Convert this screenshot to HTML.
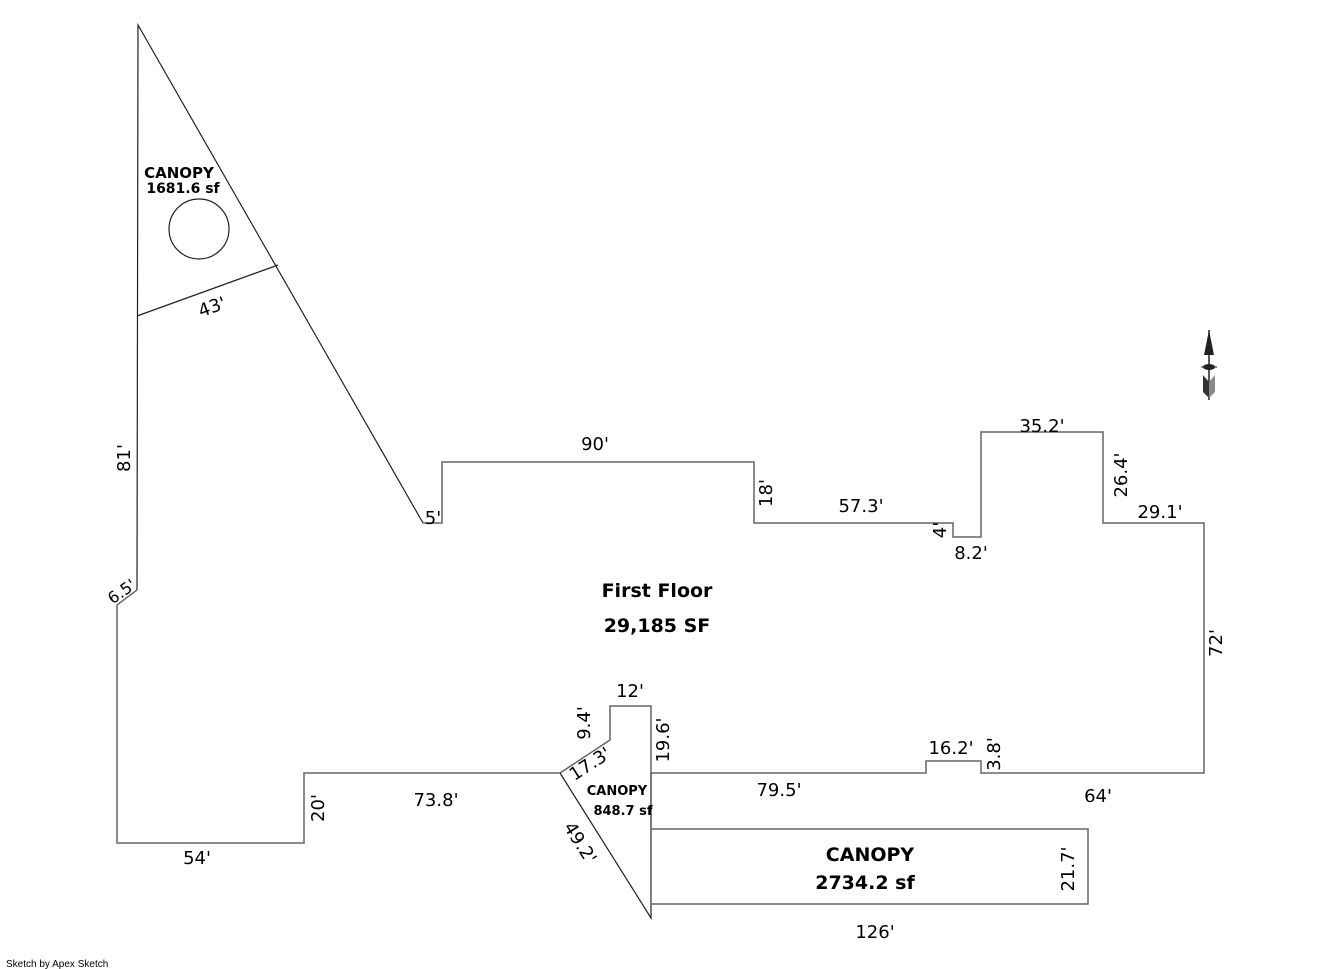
<!DOCTYPE html>
<html><head><meta charset="utf-8"><style>
html,body{margin:0;padding:0;background:#fff;}
svg{display:block;}
text{font-family:"DejaVu Sans","Liberation Sans",sans-serif;font-size:18px;fill:#000;}
.b{font-weight:bold;}
</style></head><body>
<svg width="1321" height="969" viewBox="0 0 1321 969" xmlns="http://www.w3.org/2000/svg">
<g fill="none" stroke-width="1.5">
<polyline stroke="#666" points="137,590 117,605 117,843 304,843 304,773 560,773 610,740 610,706 651,706 651,773 926,773 926,761 981,761 981,773 1204,773 1204,523 1103,523 1103,432 981,432 981,537 953,537 953,523 754,523 754,462 442,462 442,523 423,523"/>
<polyline stroke="#222" stroke-width="1.2" points="423,523 138,25 137,590"/>
<line stroke="#222" stroke-width="1.2" x1="137" y1="316" x2="278" y2="265"/>
<circle stroke="#222" stroke-width="1.2" cx="199" cy="229" r="30"/>
<polyline stroke="#222" stroke-width="1.2" points="560,773 651,918 651,773"/>
<rect stroke="#666" x="651" y="829" width="437" height="75"/>
</g>
<g transform="translate(1209,0)">
<polygon points="0,330 -5,355 5,355" fill="#222"/>
<line x1="0" y1="330" x2="0" y2="400" stroke="#222" stroke-width="1.5"/>
<ellipse cx="0" cy="367" rx="6" ry="3" fill="#222"/>
<line x1="-8" y1="367" x2="8" y2="367" stroke="#222"/>
<polygon points="-6,375 0,382 0,398 -6,392" fill="#333"/>
<polygon points="6,375 0,382 0,398 6,392" fill="#888"/>
</g>
<text class="b" x="179" y="178" text-anchor="middle" style="font-size:15px">CANOPY</text>
<text class="b" x="183" y="193" text-anchor="middle" style="font-size:14px">1681.6 sf</text>
<text x="212" y="313" text-anchor="middle" transform="rotate(-20 212 307)">43'</text>
<text x="130" y="458" text-anchor="middle" transform="rotate(-90 130 458)">81'</text>
<text x="122" y="597" text-anchor="middle" transform="rotate(-35 122 592)" style="font-size:16px">6.5'</text>
<text x="433" y="524" text-anchor="middle">5'</text>
<text x="595" y="450" text-anchor="middle">90'</text>
<text x="772" y="493" text-anchor="middle" transform="rotate(-90 772 493)">18'</text>
<text x="861" y="512" text-anchor="middle">57.3'</text>
<text x="946" y="530" text-anchor="middle" transform="rotate(-90 946 530)">4'</text>
<text x="971" y="559" text-anchor="middle">8.2'</text>
<text x="1042" y="432" text-anchor="middle">35.2'</text>
<text x="1127" y="475" text-anchor="middle" transform="rotate(-90 1127 475)">26.4'</text>
<text x="1160" y="518" text-anchor="middle">29.1'</text>
<text x="1222" y="643" text-anchor="middle" transform="rotate(-90 1222 643)">72'</text>
<text x="1098" y="802" text-anchor="middle">64'</text>
<text x="1000" y="754" text-anchor="middle" transform="rotate(-90 1000 754)">3.8'</text>
<text x="951" y="754" text-anchor="middle">16.2'</text>
<text x="779" y="796" text-anchor="middle">79.5'</text>
<text x="669" y="740" text-anchor="middle" transform="rotate(-90 669 740)">19.6'</text>
<text x="630" y="697" text-anchor="middle">12'</text>
<text x="590" y="723" text-anchor="middle" transform="rotate(-90 590 723)">9.4'</text>
<text x="590" y="770" text-anchor="middle" transform="rotate(-33 590 764)">17.3'</text>
<text x="575" y="846" text-anchor="middle" transform="rotate(58 575 846)">49.2'</text>
<text class="b" x="617" y="795" text-anchor="middle" style="font-size:13px">CANOPY</text>
<text class="b" x="623" y="815" text-anchor="middle" style="font-size:13px">848.7 sf</text>
<text class="b" x="870" y="861" text-anchor="middle" style="font-size:19px">CANOPY</text>
<text class="b" x="865" y="889" text-anchor="middle" style="font-size:19px">2734.2 sf</text>
<text x="1074" y="869" text-anchor="middle" transform="rotate(-90 1074 869)">21.7'</text>
<text x="875" y="938" text-anchor="middle">126'</text>
<text x="436" y="806" text-anchor="middle">73.8'</text>
<text x="324" y="808" text-anchor="middle" transform="rotate(-90 324 808)">20'</text>
<text x="197" y="864" text-anchor="middle">54'</text>
<text class="b" x="657" y="597" text-anchor="middle" style="font-size:19px">First Floor</text>
<text class="b" x="657" y="632" text-anchor="middle" style="font-size:19px">29,185 SF</text>
<text x="6" y="967" style="font-size:10px;font-family:'Liberation Sans',sans-serif">Sketch by Apex Sketch</text>
</svg>
</body></html>
